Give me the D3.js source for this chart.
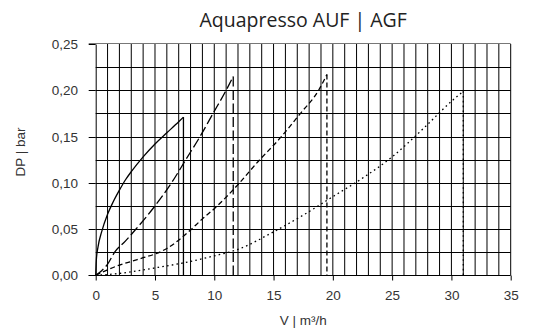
<!DOCTYPE html>
<html>
<head>
<meta charset="utf-8">
<script src="https://cdn.jsdelivr.net/npm/d3@7"></script>
<style>
  html, body { margin: 0; padding: 0; background: #fff; }
  svg { display: block; }
</style>
</head>
<body>
<svg id="chart" width="536" height="330"></svg>
<script>
// ---- data ----
const title = "Aquapresso AUF | AGF";
const xLabel = "V | m³/h";
const yLabel = "DP | bar";
const xTicks = [0, 5, 10, 15, 20, 25, 30, 35];
const yTicks = [0, 0.05, 0.10, 0.15, 0.20, 0.25];

const solidX = [0, 0.05, 0.2, 0.5, 1, 1.5, 2, 2.5, 3, 4, 5, 6, 7, 7.4];
const solidY = [0, 0.016, 0.031, 0.047, 0.066, 0.080, 0.092, 0.103, 0.112, 0.128, 0.142, 0.154, 0.166, 0.171];

const longDashX = [0, 0.5, 1, 1.6, 2.5, 3.4, 5, 6.4, 7.6, 8.8, 9.9, 11, 11.6];
const longDashY = [0, 0.005, 0.012, 0.025, 0.037, 0.05, 0.075, 0.1, 0.125, 0.15, 0.175, 0.2, 0.215];

const medDashX = [0, 1, 2, 3, 4, 5, 6, 7, 8, 9, 10, 12, 13.7, 15.6, 17.2, 18.8, 19.5];
const medDashY = [0, 0.006, 0.011, 0.015, 0.019, 0.023, 0.029, 0.038, 0.049, 0.061, 0.072, 0.098, 0.123, 0.149, 0.174, 0.2, 0.217];

const dotX = [0, 2, 5, 8, 10, 12, 15, 17.5, 20, 22.5, 25, 27.5, 30, 31];
const dotY = [0, 0.002, 0.008, 0.015, 0.021, 0.028, 0.047, 0.065, 0.085, 0.105, 0.128, 0.157, 0.188, 0.199];

const series = [
  { x: solidX, y: solidY, dash: null },
  { x: longDashX, y: longDashY, dash: "10,3.5" },
  { x: medDashX, y: medDashY, dash: "5,3" },
  { x: dotX, y: dotY, dash: "1.6,3.2" }
];

// ---- layout ----
const svg = d3.select("#chart");
const mLeft = 95.7, mRight = 510.7, mTop = 44, mBottom = 275.3;

const x = d3.scaleLinear().domain([0, 35]).range([mLeft, mRight]);
const y = d3.scaleLinear().domain([0, 0.25]).range([mBottom, mTop]);

const fmt = d => d3.format(".2f")(d).replace(".", ",");

// vertical grid (every 1 unit)
const g = svg.append("g");
g.selectAll("line.vg").data(d3.range(1, 36)).join("line")
  .attr("x1", d => x(d)).attr("x2", d => x(d))
  .attr("y1", y(0.25)).attr("y2", y(0))
  .attr("stroke", "#000").attr("stroke-width", 1);

// horizontal grid (every 0.025)
const hv = d3.range(1, 10).map(i => i * 0.025);
g.selectAll("line.hg").data(hv).join("line")
  .attr("x1", x(0)).attr("x2", x(35))
  .attr("y1", d => Math.round(y(d)) + 0.5).attr("y2", d => Math.round(y(d)) + 0.5)
  .attr("stroke", "#000").attr("stroke-width", 1);

// top line (gray)
g.append("line")
  .attr("x1", x(0) - 7).attr("x2", x(35))
  .attr("y1", Math.round(y(0.25)) - 0.5).attr("y2", Math.round(y(0.25)) - 0.5)
  .attr("stroke", "#777").attr("stroke-width", 1);

// axes
const xAxis = d3.axisBottom(x).tickValues(xTicks).tickSize(5).tickSizeOuter(0).tickPadding(9.5);
const yAxis = d3.axisLeft(y).tickValues(yTicks).tickSize(7).tickSizeOuter(0).tickPadding(10.7).tickFormat(fmt);

const gx = svg.append("g").attr("transform", `translate(0,${Math.round(y(0)) + 0.5})`).call(xAxis);
const gy = svg.append("g").attr("transform", `translate(${x(0)},0)`).call(yAxis);
gx.select(".domain").attr("stroke", "#000").attr("d", `M${x(0) - 7},0H${x(35)}`);
gy.select(".domain").attr("stroke", "#000");
[gx, gy].forEach(a => {
  a.selectAll(".tick line").attr("stroke", "#000");
  a.selectAll(".tick text")
    .attr("font-family", "'Liberation Sans', Arial, sans-serif")
    .attr("font-size", 13.5)
    .attr("fill", "#333");
});
gy.selectAll(".tick").attr("transform", d => `translate(0,${Math.round(y(d)) + 0.5})`);

// curves
const line = d3.line().x(d => x(d[0])).y(d => y(d[1])).curve(d3.curveMonotoneX);
series.forEach(s => {
  const pts = s.x.map((v, i) => [v, s.y[i]]);
  const last = pts[pts.length - 1];
  const p = svg.append("path")
    .attr("d", line(pts))
    .attr("fill", "none").attr("stroke", "#000").attr("stroke-width", 1.3);
  const v = svg.append("line")
    .attr("x1", x(last[0])).attr("x2", x(last[0]))
    .attr("y1", y(last[1])).attr("y2", y(0))
    .attr("stroke", "#000").attr("stroke-width", 1.3);
  if (s.dash) { p.attr("stroke-dasharray", s.dash); v.attr("stroke-dasharray", s.dash); }
});

// titles
svg.append("text")
  .attr("x", (mLeft + mRight) / 2).attr("y", 27)
  .attr("text-anchor", "middle")
  .attr("font-family", "'Open Sans', 'Noto Sans', sans-serif")
  .attr("font-size", 19.5)
  .attr("fill", "#222")
  .text(title);

svg.append("text")
  .attr("x", (mLeft + mRight) / 2).attr("y", 325)
  .attr("text-anchor", "middle")
  .attr("font-family", "'Liberation Sans', Arial, sans-serif")
  .attr("font-size", 13.5)
  .attr("fill", "#333")
  .text(xLabel);

svg.append("text")
  .attr("transform", `translate(25,152) rotate(-90)`)
  .attr("text-anchor", "middle")
  .attr("font-family", "'Liberation Sans', Arial, sans-serif")
  .attr("font-size", 13.5)
  .attr("fill", "#333")
  .text(yLabel);
</script>
</body>
</html>
